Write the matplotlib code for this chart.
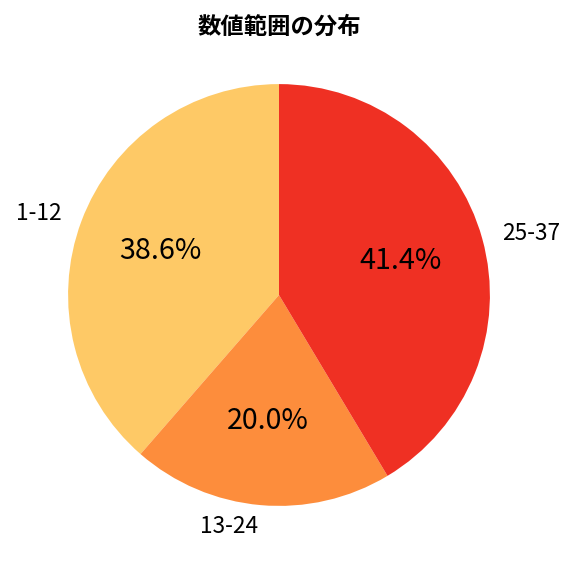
import matplotlib
matplotlib.use("Agg")
import matplotlib.pyplot as plt

plt.rcParams['font.family'] = ['Noto Sans CJK JP', 'DejaVu Sans']

labels = ['1-12', '13-24', '25-37']
values = [38.6, 20.0, 41.4]
colors = ['#FEC966', '#FD8D3C', '#EF3023']

fig = plt.figure(figsize=(6, 6), dpi=96)
ax = fig.add_axes([47/576, 49/576, 464/576, 464/576])
wedges, texts, autotexts = ax.pie(values, labels=labels, colors=colors, autopct='%1.1f%%',
                                  startangle=90, counterclock=True,
                                  textprops={'fontsize': 17})
for t in autotexts:
    t.set_fontsize(21.5)
ax.set_xlim(-1.1, 1.1)
ax.set_ylim(-1.1, 1.1)
fig.text(279/576, 1 - 27/576, '数値範囲の分布', fontsize=17.5, fontweight='bold',
         ha='center', va='center')
fig.savefig('out.png', dpi=96)
